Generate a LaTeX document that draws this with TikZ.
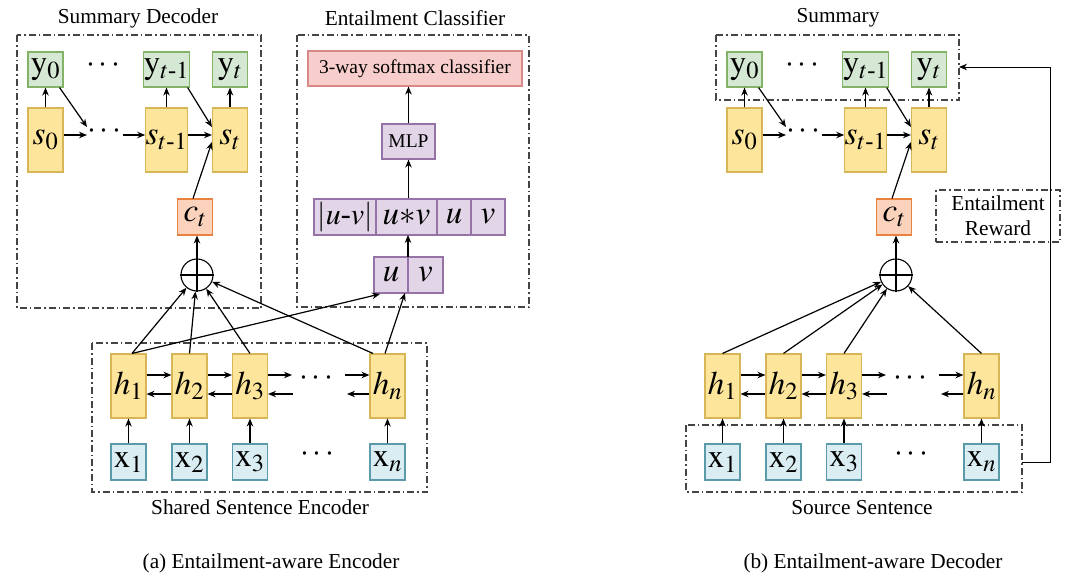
\documentclass[tikz,border=0pt]{standalone}
\usepackage{amsmath}
\usepackage{mathptmx}
\usepackage{fontspec}
\setmainfont{Liberation Serif}
\usetikzlibrary{arrows.meta,calc}
\definecolor{yfill}{HTML}{D5E8D4}\definecolor{ydraw}{HTML}{82B366}
\definecolor{sfill}{HTML}{FDE59B}\definecolor{sdraw}{HTML}{D6B656}
\definecolor{cfill}{HTML}{FBD3BD}\definecolor{cdraw}{HTML}{E8823E}
\definecolor{xfill}{HTML}{D9EDF3}\definecolor{xdraw}{HTML}{5B9AA8}
\definecolor{pfill}{HTML}{E1D5E7}\definecolor{pdraw}{HTML}{9673A6}
\definecolor{rfill}{HTML}{F8CECC}\definecolor{rdraw}{HTML}{D98A88}
\definecolor{frame}{HTML}{444444}
\tikzset{
  cell/.style={draw, line width=1.1pt, inner sep=0pt, minimum width=35pt, font=\fontsize{33}{33}\selectfont},
  ybox/.style={cell, fill=yfill, draw=ydraw, minimum height=35pt},
  sbox/.style={cell, fill=sfill, draw=sdraw, minimum height=64pt},
  cbox/.style={cell, fill=cfill, draw=cdraw, minimum height=36pt},
  xbox/.style={cell, fill=xfill, draw=xdraw, minimum height=36pt},
  pbox/.style={cell, fill=pfill, draw=pdraw, minimum height=36pt},
  rbox/.style={draw=rdraw, fill=rfill, line width=1.1pt, inner sep=0pt, minimum height=35pt, font=\fontsize{19.5}{20}\selectfont},
  frm/.style={draw=frame, line width=1.1pt, dash pattern=on 7pt off 3pt on 1.5pt off 3pt},
  lbl/.style={font=\fontsize{21.3}{23}\selectfont, inner sep=0pt},
  arr/.style={-{Stealth[length=8pt,width=6.5pt]}, line width=1.2pt, black},
  opl/.style={circle, draw, line width=1.1pt, minimum size=32pt, inner sep=0pt},
  dts/.style={font=\fontsize{32}{32}\selectfont, inner sep=0pt},
}
\begin{document}
\begin{tikzpicture}[x=1pt,y=-1pt]
\useasboundingbox[fill=white] (0,0) rectangle (1080,581);
% ================= (a) =================
% frames
\draw[frm] (17,35) rectangle (261,308);
\draw[frm] (297,35) rectangle (529,307);
\draw[frm] (92,343) rectangle (427,492);
\node[lbl] (tsd) at (138,18) {Summary Decoder};
\node[lbl] (tec) at (415,18) {Entailment Classifier};
\node[lbl] (tse) at (260,507) {Shared Sentence Encoder};
\node[lbl] (capa) at (271,563) {(a) Entailment-aware Encoder};
% decoder
\node[ybox] (ay0) at (45.5,69.5) {$\mathrm{y}_0$};
\node[ybox] (ay1) at (166.5,69.5) {$\mathrm{y}_{t\text{-}1}$};
\node[ybox] (ayt) at (230,69.5) {$\mathrm{y}_t$};
\node[dts] (ady) at (105,66) {$\cdots$};
\node[sbox] (as0) at (45.5,140) {$s_0$};
\node[sbox] (as1) at (166.5,140) {$s_{t\text{-}1}$};
\node[sbox] (ast) at (230,140) {$s_t$};
\node[dts] (ads) at (106,132) {$\cdots$};
\coordinate (ada) at (87,135);
\coordinate (adb) at (123,135);
\draw[arr] (as0.east |- ada) -- (ada);
\draw[arr] (adb) -- (as1.west |- adb);
\draw[arr] (as1.east |- ada) -- (ast.west |- ada);
\draw[arr] ($(ay0.south east)+(-4,0)$) -- (87,127);
\draw[arr] ($(ay1.south east)+(-2,0)$) -- (ast.west |- 0,127);
\foreach \n in {0,1,t}{\draw[arr] (as\n.north) -- (ay\n.south);}
\node[cbox] (act) at (195,217) {$c_t$};
\node[opl] (aop) at (197,275) {};
\draw[line width=1.1pt] (aop.north) -- (aop.south) (aop.west) -- (aop.east);
\draw[arr] (aop.north) -- (aop.north |- act.south);
\draw[arr] ($(act.north)+(-2,0)$) -- (ast.west |- 0,142);
% classifier
\node[rbox, minimum width=214pt] (asm) at (415,68.5) {3-way softmax classifier};
\node[pbox, minimum width=53pt, minimum height=35pt, font=\fontsize{19.5}{20}\selectfont] (amlp) at (408.5,141.5) {MLP};
\node[pbox, minimum width=62pt, font=\fontsize{30}{30}\selectfont] (ar1) at (345,217) {$|u\text{-}v|$};
\node[pbox, minimum width=61pt] (ar2) at (406.5,217) {$u{\ast}v$};
\node[pbox, minimum width=34pt] (ar3) at (454,217) {$u$};
\node[pbox, minimum width=34pt] (ar4) at (488,217) {$v$};
\node[pbox, minimum width=34pt] (au) at (391,275) {$u$};
\node[pbox, minimum width=35pt] (av) at (425.5,275) {$v$};
\draw[arr] (408,257) -- (408,235);
\draw[arr] (amlp.north) -- (amlp.north |- asm.south);
\draw[arr] (amlp.south |- ar2.north) -- (amlp.south);
% encoder
\foreach \i/\x in {1/128.5,2/189.5,3/250,n/387.5}{
  \node[sbox] (ah\i) at (\x,386) {$h_\i$};
  \node[xbox] (ax\i) at (\x,462) {$\mathrm{x}_\i$};
  \draw[arr] (ax\i.north) -- (ah\i.south);
}
\node[dts] (adh) at (318,379) {$\cdots$};
\node[dts] (adx) at (319,455) {$\cdots$};
\coordinate (aff) at (0,375);
\coordinate (abb) at (0,394);
\draw[arr] (ah1.east |- aff) -- (ah2.west |- aff);
\draw[arr] (ah2.east |- aff) -- (ah3.west |- aff);
\draw[arr] (ah3.east |- aff) -- (292,375);
\draw[arr] (345,375) -- (ahn.west |- aff);
\draw[arr] (ah2.west |- abb) -- (ah1.east |- abb);
\draw[arr] (ah3.west |- abb) -- (ah2.east |- abb);
\draw[arr] (293,394) -- (ah3.east |- abb);
\draw[arr] (ahn.west |- abb) -- (347,394);
\draw[arr] ($(ah1.north)+(3.5,0)$) -- (aop);
\draw[arr] (ah2.north) -- (aop);
\draw[arr] (ah3.north) -- (aop);
\draw[arr] ($(ahn.north)+(-14.5,0)$) -- (aop);
\draw[arr] ($(ah1.north)+(3.5,0)$) -- (380,294);
\draw[arr] ($(ahn.north)+(-2.5,0)$) -- (405,293);
% ================= (b) =================
\draw[frm] (716,35) rectangle (959,100);
\draw[frm] (686,425) rectangle (1022,492);
\node[lbl] (tsu) at (838,18) {Summary};
\node[lbl] (tss) at (862,508) {Source Sentence};
\node[lbl] (capb) at (873,563) {(b) Entailment-aware Decoder};
\node[frm, lbl, minimum width=124pt, minimum height=52pt, align=center] (ber) at (998,216) {Entailment\\[2pt]Reward};
\node[ybox] (by0) at (744.5,69.5) {$\mathrm{y}_0$};
\node[ybox] (by1) at (865.5,69.5) {$\mathrm{y}_{t\text{-}1}$};
\node[ybox] (byt) at (929,69.5) {$\mathrm{y}_t$};
\node[dts] (bdy) at (804,66) {$\cdots$};
\node[sbox] (bs0) at (744.5,140) {$s_0$};
\node[sbox] (bs1) at (865.5,140) {$s_{t\text{-}1}$};
\node[sbox] (bst) at (929,140) {$s_t$};
\node[dts] (bds) at (805,132) {$\cdots$};
\coordinate (bda) at (786,135);
\coordinate (bdb) at (822,135);
\draw[arr] (bs0.east |- bda) -- (bda);
\draw[arr] (bdb) -- (bs1.west |- bdb);
\draw[arr] (bs1.east |- bda) -- (bst.west |- bda);
\draw[arr] ($(by0.south east)+(-4,0)$) -- (786,127);
\draw[arr] ($(by1.south east)+(-2,0)$) -- (bst.west |- 0,127);
\foreach \n in {0,1,t}{\draw[arr] (bs\n.north) -- (by\n.south);}
\node[cbox] (bct) at (894,217) {$c_t$};
\node[opl] (bop) at (896,275) {};
\draw[line width=1.1pt] (bop.north) -- (bop.south) (bop.west) -- (bop.east);
\draw[arr] (bop.north) -- (bop.north |- bct.south);
\draw[arr] ($(bct.north)+(-2,0)$) -- (bst.west |- 0,142);
\foreach \i/\x in {1/722.5,2/783.5,3/844,n/981.5}{
  \node[sbox] (bh\i) at (\x,386) {$h_\i$};
  \node[xbox] (bx\i) at (\x,462) {$\mathrm{x}_\i$};
  \draw[arr] (bx\i.north) -- (bh\i.south);
  \draw[arr] (bh\i.north) -- (bop);
}
\node[dts] (bdh) at (912,379) {$\cdots$};
\node[dts] (bdx) at (913,455) {$\cdots$};
\draw[arr] (bh1.east |- aff) -- (bh2.west |- aff);
\draw[arr] (bh2.east |- aff) -- (bh3.west |- aff);
\draw[arr] (bh3.east |- aff) -- (886,375);
\draw[arr] (939,375) -- (bhn.west |- aff);
\draw[arr] (bh2.west |- abb) -- (bh1.east |- abb);
\draw[arr] (bh3.west |- abb) -- (bh2.east |- abb);
\draw[arr] (887,394) -- (bh3.east |- abb);
\draw[arr] (bhn.west |- abb) -- (941,394);
\coordinate (bsr) at (1022,462);
\coordinate (bur) at (959,67);
\draw[arr, line width=0.9pt] (bsr) -- (1050,462) -- (1050,67) -- (bur);
\end{tikzpicture}
\end{document}
